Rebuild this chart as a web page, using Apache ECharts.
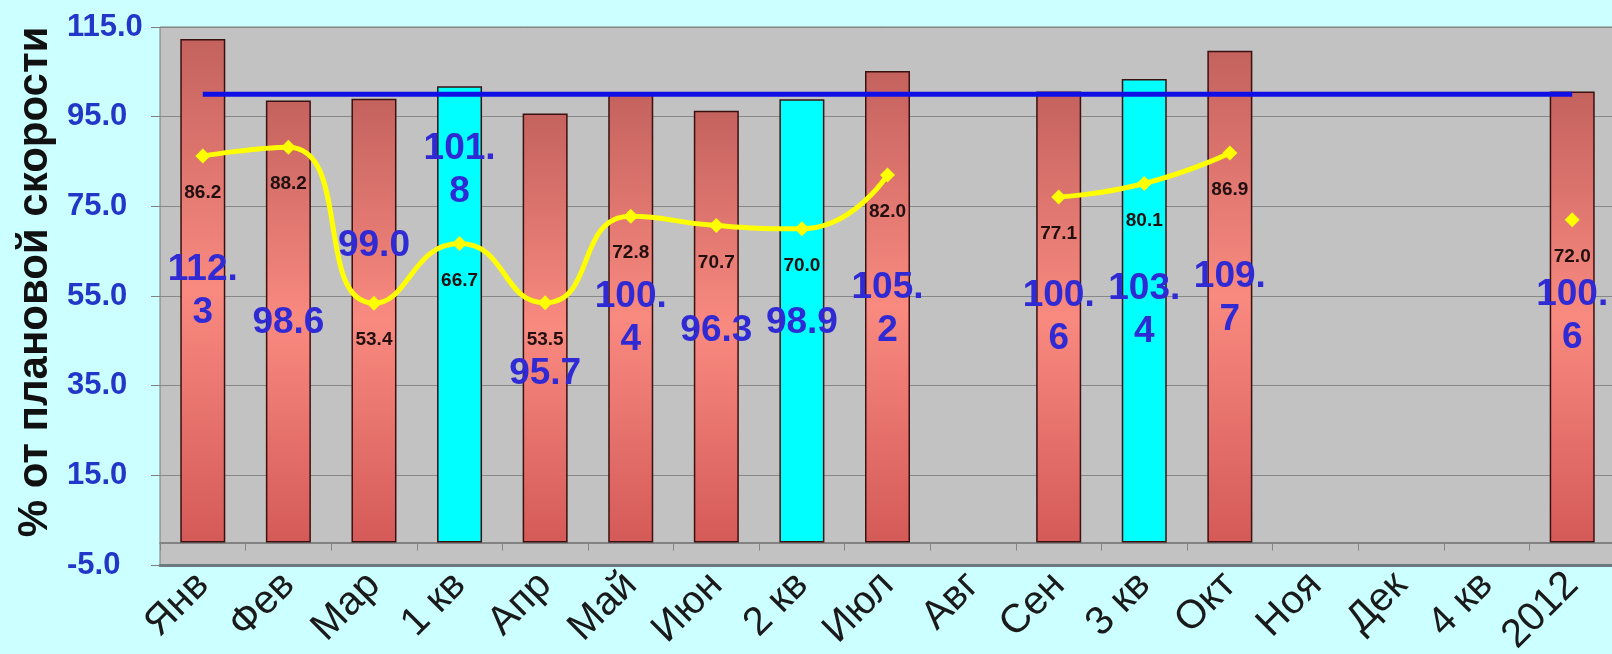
<!DOCTYPE html>
<html>
<head>
<meta charset="utf-8">
<script src="https://cdn.jsdelivr.net/npm/echarts@6/dist/echarts.min.js"></script>
<style>
  html, body { margin: 0; padding: 0; background: #ccffff; }
  #chart { width: 1612px; height: 654px; }
</style>
</head>
<body>
<div id="chart"></div>
<script>
// ---- data ----
const categories = ['Янв', 'Фев', 'Мар', '1 кв', 'Апр', 'Май', 'Июн', '2 кв', 'Июл', 'Авг', 'Сен', '3 кв', 'Окт', 'Ноя', 'Дек', '4 кв', '2012'];
const actualSpeed = [112.3, 98.6, 99.0, 101.8, 95.7, 100.4, 96.3, 98.9, 105.2, null, 100.6, 103.4, 109.7, null, null, null, 100.6];
const secondIndex = [86.2, 88.2, 53.4, 66.7, 53.5, 72.8, 70.7, 70.0, 82.0, null, 77.1, 80.1, 86.9, null, null, null, 72.0];
const planLevel = [100, 100, 100, 100, 100, 100, 100, 100, 100, 100, 100, 100, 100, 100, 100, 100, 100];
const yTicks = { min: -5, max: 115, interval: 20 };
const yAxisTitle = '% от плановой скорости';

// ---- layout / style (not data) ----
// where the centre of each big bar label sits, in axis units
const barLabelCenter = [56.0, 49.0, 66.1, 83.1, 37.6, 50.1, 47.2, 49.0, 52.1, null, 50.3, 51.9, 54.5, null, null, null, 50.5];
const grid = { left: 160, top: 27, width: 1455, height: 538 };
const pxPerUnit = grid.height / (yTicks.max - yTicks.min);
const FONT = 'Liberation Sans, Arial, sans-serif';

const redFill = new echarts.graphic.LinearGradient(0, 0, 0, 1, [
  { offset: 0, color: '#c4625e' },
  { offset: 0.5, color: '#f98a80' },
  { offset: 1, color: '#d45a58' }
]);
const cyanFill = '#00ffff';

const barData = actualSpeed.map((v, i) => {
  if (v === null) return null;
  const isQuarter = categories[i].indexOf('кв') >= 0;
  const dy = (v - barLabelCenter[i]) * pxPerUnit;
  return {
    value: v,
    itemStyle: { color: isQuarter ? cyanFill : redFill, borderColor: '#3a1010', borderWidth: 1.5 },
    label: { position: ['50%', dy] }
  };
});

const chart = echarts.init(document.getElementById('chart'), null, { renderer: 'canvas' });
chart.setOption({
  backgroundColor: '#ccffff',
  animation: false,
  grid: Object.assign({
    show: true, backgroundColor: '#c2c2c2', borderColor: '#7a7a7a', borderWidth: 1,
    containLabel: false, outerBoundsMode: 'none'
  }, grid),
  graphic: [{
    type: 'text',
    x: 35, y: 282,
    rotation: Math.PI / 2,
    style: {
      text: yAxisTitle,
      align: 'center', verticalAlign: 'middle',
      fill: '#111', fontSize: 42, fontWeight: 'bold', fontFamily: FONT
    }
  }],
  xAxis: [{
    type: 'category',
    data: categories,
    position: 'bottom',
    axisLine: { onZero: false, lineStyle: { color: '#6c7a80', width: 3 } },
    axisTick: { show: false },
    axisLabel: {
      rotate: 45, margin: 14, interval: 0,
      color: '#1a1a1a', fontSize: 40, fontFamily: FONT
    },
    splitLine: { show: false }
  }, {
    type: 'category',
    data: categories,
    position: 'top',
    axisLine: { onZero: true, lineStyle: { color: '#6e6e6e', width: 1.5 } },
    axisTick: { show: true, inside: true, length: 8, lineStyle: { color: '#858585' } },
    axisLabel: { show: false },
    splitLine: { show: false }
  }],
  yAxis: {
    type: 'value',
    min: yTicks.min, max: yTicks.max, interval: yTicks.interval,
    axisLine: { show: false },
    axisTick: { show: true, length: 9, lineStyle: { color: '#808080' } },
    axisLabel: {
      margin: 93, align: 'left',
      color: '#2236c8', fontSize: 31, fontWeight: 'bold', fontFamily: FONT,
      formatter: v => v.toFixed(1)
    },
    splitLine: { lineStyle: { color: '#888888', width: 1 } }
  },
  series: [{
    name: 'Скорость',
    type: 'bar',
    xAxisIndex: 0,
    barWidth: 45,
    data: barData,
    label: {
      show: true,
      align: 'center', verticalAlign: 'middle',
      color: '#2f2ad4', fontSize: 37, fontWeight: 'bold', lineHeight: 43,
      fontFamily: FONT,
      formatter: p => {
        const s = p.value.toFixed(1);
        return s.length > 4 ? s.slice(0, 4) + '\n' + s.slice(4) : s;
      }
    },
    z: 2
  }, {
    name: 'План',
    type: 'line',
    xAxisIndex: 0,
    data: planLevel,
    symbol: 'none',
    lineStyle: { color: '#1010e6', width: 5 },
    z: 3
  }, {
    name: 'Показатель',
    type: 'line',
    xAxisIndex: 0,
    data: secondIndex,
    smooth: 0.55,
    connectNulls: false,
    symbol: 'diamond',
    symbolSize: 15,
    showAllSymbol: true,
    itemStyle: { color: '#ffff00' },
    lineStyle: { color: '#ffff00', width: 5 },
    label: {
      show: true, position: 'inside', offset: [0, 37],
      color: '#221010', fontSize: 19, fontWeight: 'bold',
      fontFamily: FONT,
      formatter: p => p.value.toFixed(1)
    },
    z: 4
  }]
});
</script>
</body>
</html>
